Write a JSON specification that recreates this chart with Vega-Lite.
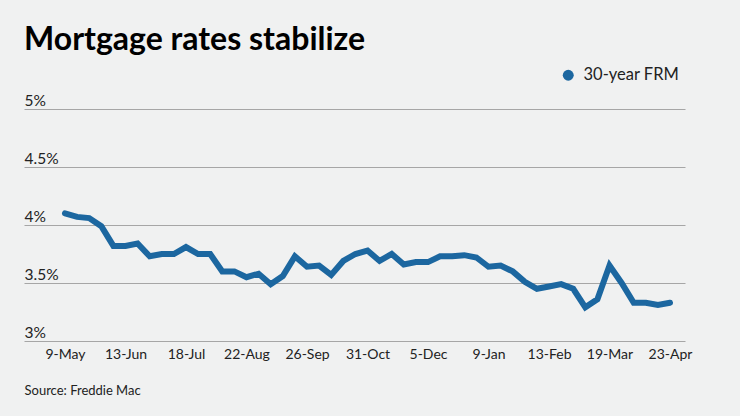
{
  "$schema": "https://vega.github.io/schema/vega-lite/v6.json",
  "autosize": "none",
  "width": 661,
  "height": 232,
  "padding": {"left": 24, "top": 109, "right": 55, "bottom": 75},
  "background": "#f0f1f1",
  "title": {
    "text": "Mortgage rates stabilize",
    "anchor": "start",
    "frame": "group",
    "font": "Lato",
    "fontSize": 32,
    "fontWeight": "bold",
    "color": "#000000",
    "offset": 10
  },
  "config": {
    "view": {"stroke": null},
    "font": "Lato"
  },
  "data": {
    "values": [
      {"date": "2019-05-09", "rate": 4.10, "series": "30-year FRM"},
      {"date": "2019-05-16", "rate": 4.07, "series": "30-year FRM"},
      {"date": "2019-05-23", "rate": 4.06, "series": "30-year FRM"},
      {"date": "2019-05-30", "rate": 3.99, "series": "30-year FRM"},
      {"date": "2019-06-06", "rate": 3.82, "series": "30-year FRM"},
      {"date": "2019-06-13", "rate": 3.82, "series": "30-year FRM"},
      {"date": "2019-06-20", "rate": 3.84, "series": "30-year FRM"},
      {"date": "2019-06-27", "rate": 3.73, "series": "30-year FRM"},
      {"date": "2019-07-04", "rate": 3.75, "series": "30-year FRM"},
      {"date": "2019-07-11", "rate": 3.75, "series": "30-year FRM"},
      {"date": "2019-07-18", "rate": 3.81, "series": "30-year FRM"},
      {"date": "2019-07-25", "rate": 3.75, "series": "30-year FRM"},
      {"date": "2019-08-01", "rate": 3.75, "series": "30-year FRM"},
      {"date": "2019-08-08", "rate": 3.60, "series": "30-year FRM"},
      {"date": "2019-08-15", "rate": 3.60, "series": "30-year FRM"},
      {"date": "2019-08-22", "rate": 3.55, "series": "30-year FRM"},
      {"date": "2019-08-29", "rate": 3.58, "series": "30-year FRM"},
      {"date": "2019-09-05", "rate": 3.49, "series": "30-year FRM"},
      {"date": "2019-09-12", "rate": 3.56, "series": "30-year FRM"},
      {"date": "2019-09-19", "rate": 3.73, "series": "30-year FRM"},
      {"date": "2019-09-26", "rate": 3.64, "series": "30-year FRM"},
      {"date": "2019-10-03", "rate": 3.65, "series": "30-year FRM"},
      {"date": "2019-10-10", "rate": 3.57, "series": "30-year FRM"},
      {"date": "2019-10-17", "rate": 3.69, "series": "30-year FRM"},
      {"date": "2019-10-24", "rate": 3.75, "series": "30-year FRM"},
      {"date": "2019-10-31", "rate": 3.78, "series": "30-year FRM"},
      {"date": "2019-11-07", "rate": 3.69, "series": "30-year FRM"},
      {"date": "2019-11-14", "rate": 3.75, "series": "30-year FRM"},
      {"date": "2019-11-21", "rate": 3.66, "series": "30-year FRM"},
      {"date": "2019-11-28", "rate": 3.68, "series": "30-year FRM"},
      {"date": "2019-12-05", "rate": 3.68, "series": "30-year FRM"},
      {"date": "2019-12-12", "rate": 3.73, "series": "30-year FRM"},
      {"date": "2019-12-19", "rate": 3.73, "series": "30-year FRM"},
      {"date": "2019-12-26", "rate": 3.74, "series": "30-year FRM"},
      {"date": "2020-01-02", "rate": 3.72, "series": "30-year FRM"},
      {"date": "2020-01-09", "rate": 3.64, "series": "30-year FRM"},
      {"date": "2020-01-16", "rate": 3.65, "series": "30-year FRM"},
      {"date": "2020-01-23", "rate": 3.60, "series": "30-year FRM"},
      {"date": "2020-01-30", "rate": 3.51, "series": "30-year FRM"},
      {"date": "2020-02-06", "rate": 3.45, "series": "30-year FRM"},
      {"date": "2020-02-13", "rate": 3.47, "series": "30-year FRM"},
      {"date": "2020-02-20", "rate": 3.49, "series": "30-year FRM"},
      {"date": "2020-02-27", "rate": 3.45, "series": "30-year FRM"},
      {"date": "2020-03-05", "rate": 3.29, "series": "30-year FRM"},
      {"date": "2020-03-12", "rate": 3.36, "series": "30-year FRM"},
      {"date": "2020-03-19", "rate": 3.65, "series": "30-year FRM"},
      {"date": "2020-03-26", "rate": 3.50, "series": "30-year FRM"},
      {"date": "2020-04-02", "rate": 3.33, "series": "30-year FRM"},
      {"date": "2020-04-09", "rate": 3.33, "series": "30-year FRM"},
      {"date": "2020-04-16", "rate": 3.31, "series": "30-year FRM"},
      {"date": "2020-04-23", "rate": 3.33, "series": "30-year FRM"}
    ]
  },
  "mark": {"type": "line", "strokeWidth": 6, "strokeJoin": "miter", "strokeCap": "round"},
  "encoding": {
    "x": {
      "field": "date",
      "type": "temporal",
      "scale": {
        "type": "utc",
        "domain": [
          {"year": 2019, "month": 4, "date": 15, "hours": 7, "utc": true},
          {"year": 2020, "month": 5, "date": 1, "hours": 16, "utc": true}
        ]
      },
      "axis": {
        "values": [
          {"year": 2019, "month": 5, "date": 9, "utc": true},
          {"year": 2019, "month": 6, "date": 13, "utc": true},
          {"year": 2019, "month": 7, "date": 18, "utc": true},
          {"year": 2019, "month": 8, "date": 22, "utc": true},
          {"year": 2019, "month": 9, "date": 26, "utc": true},
          {"year": 2019, "month": 10, "date": 31, "utc": true},
          {"year": 2019, "month": 12, "date": 5, "utc": true},
          {"year": 2020, "month": 1, "date": 9, "utc": true},
          {"year": 2020, "month": 2, "date": 13, "utc": true},
          {"year": 2020, "month": 3, "date": 19, "utc": true},
          {"year": 2020, "month": 4, "date": 23, "utc": true}
        ],
        "format": "%-d-%b",
        "labelAngle": 0,
        "labelAlign": "center",
        "domain": false,
        "ticks": false,
        "grid": false,
        "labelFont": "Lato",
        "labelFontSize": 14,
        "labelColor": "#222222",
        "labelPadding": 6,
        "title": "Source: Freddie Mac",
        "titleFont": "Lato",
        "titleFontSize": 13,
        "titleFontWeight": "normal",
        "titleColor": "#222222",
        "titleAnchor": "start",
        "titleAlign": "left",
        "titleX": 0,
        "titlePadding": 23
      }
    },
    "y": {
      "field": "rate",
      "type": "quantitative",
      "scale": {"domain": [3, 5], "nice": false, "zero": false},
      "axis": {
        "values": [3, 3.5, 4, 4.5, 5],
        "labelExpr": "datum.value + '%'",
        "domain": false,
        "ticks": false,
        "grid": true,
        "gridColor": "#a6a6a6",
        "gridWidth": 1.2,
        "labelAlign": "left",
        "labelBaseline": "alphabetic",
        "labelPadding": 0,
        "labelOffset": -4,
        "labelFont": "Lato",
        "labelFontSize": 15.5,
        "labelColor": "#222222",
        "title": null
      }
    },
    "color": {
      "field": "series",
      "type": "nominal",
      "scale": {"range": ["#1c67a0"]},
      "legend": {
        "title": null,
        "orient": "none",
        "legendX": 536,
        "legendY": -42,
        "symbolType": "circle",
        "symbolSize": 120,
        "symbolStrokeWidth": 0,
        "symbolFillColor": "#1c67a0",
        "labelFont": "Lato",
        "labelFontSize": 16.5,
        "labelColor": "#222222",
        "labelOffset": 7
      }
    }
  }
}
